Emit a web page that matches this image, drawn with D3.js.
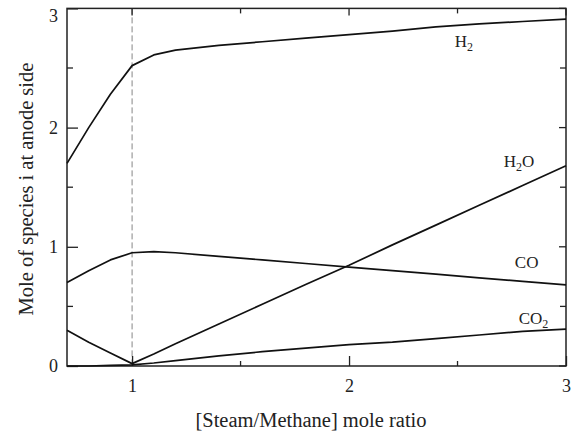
<!DOCTYPE html>
<html>
<head>
<meta charset="utf-8">
<script src="https://cdn.jsdelivr.net/npm/d3@7"></script>
<style>
  body { margin: 0; background: #fff; }
  svg { display: block; }
  text { font-family: "Liberation Serif", "Times New Roman", serif; fill: #222; }
</style>
</head>
<body>
<div id="chart"></div>
<script>
// steam/methane ratio sample points
var ratio = [0.7, 0.8, 0.9, 1.0, 1.1, 1.2, 1.4, 1.6, 1.8, 2.0, 2.2, 2.4, 2.6, 2.8, 3.0];

// moles of each species at the anode side
var h2  = [1.70, 2.00, 2.28, 2.52, 2.61, 2.65, 2.69, 2.72, 2.75, 2.78, 2.81, 2.845, 2.87, 2.89, 2.91];
var h2o = [0.30, 0.20, 0.11, 0.02, 0.10, 0.186, 0.352, 0.518, 0.684, 0.845, 1.016, 1.182, 1.348, 1.514, 1.68];
var co  = [0.70, 0.80, 0.89, 0.95, 0.96, 0.95, 0.92, 0.89, 0.86, 0.83, 0.80, 0.77, 0.74, 0.71, 0.68];
var co2 = [0.00, 0.00, 0.005, 0.01, 0.025, 0.045, 0.085, 0.12, 0.15, 0.18, 0.20, 0.23, 0.26, 0.29, 0.31];

var seriesNames = ["H2", "H2O", "CO", "CO2"];
// label anchors in data units [ratio, mole]
var labelAt = [[2.487, 2.68], [2.713, 1.67], [2.764, 0.82], [2.782, 0.35]];

var xMajor = [1, 2, 3];
var xMinor = [1.5, 2.5];
var yMajor = [0, 1, 2, 3];
var yMinor = [0.5, 1.5, 2.5];

var margin = { left: 67, right: 5, top: 8.4, bottom: 69 };
var W = 571, H = 435;
var width = W - margin.left - margin.right,
    height = H - margin.top - margin.bottom;

var svg = d3.select("#chart").append("svg")
    .attr("width", W)
    .attr("height", H)
    .attr("font-family", "Liberation Serif, serif");

var g = svg.append("g")
    .attr("transform", "translate(" + margin.left + "," + margin.top + ")");

var x = d3.scaleLinear().domain([0.7, 3]).range([0, width]);
var y = d3.scaleLinear().domain([0, 3]).range([height, 0]);

// dashed line at ratio 1
g.append("line")
    .attr("x1", x(1)).attr("x2", x(1))
    .attr("y1", 0).attr("y2", height)
    .attr("stroke", "#666")
    .attr("stroke-width", 0.8)
    .attr("stroke-dasharray", "6,3");

// Axes (ticks point inward)
var bottom = g.append("g")
    .attr("transform", "translate(0," + height + ")")
    .call(d3.axisBottom(x).tickValues(xMajor).tickSize(-10).tickPadding(13).tickFormat(d3.format("d")));
var left = g.append("g")
    .call(d3.axisLeft(y).tickValues(yMajor).tickSize(-11).tickPadding(9).tickFormat(d3.format("d")));

[bottom, left].forEach(function (a) {
  a.attr("font-family", null);
  a.select(".domain").remove();
  a.selectAll("line").attr("stroke", "#222").attr("stroke-width", 1.3);
  a.selectAll("text").attr("font-size", "18px").attr("fill", "#222");
});
// top label "3" sits a bit lower so it is not cut by the frame
left.selectAll(".tick text").filter(function (d) { return d === 3; }).attr("dy", "0.7em");

// minor ticks + mirrored ticks
var tickG = g.append("g").attr("stroke", "#222").attr("stroke-width", 1.3);
xMinor.forEach(function (v) {
  tickG.append("line").attr("x1", x(v)).attr("x2", x(v)).attr("y1", height).attr("y2", height - 5);
});
xMajor.concat(xMinor).forEach(function (v) {
  tickG.append("line").attr("x1", x(v)).attr("x2", x(v)).attr("y1", 0).attr("y2", xMinor.indexOf(v) >= 0 ? 5 : 7);
});
yMinor.forEach(function (v) {
  tickG.append("line").attr("x1", 0).attr("x2", 6).attr("y1", y(v)).attr("y2", y(v));
});
yMajor.concat(yMinor).forEach(function (v) {
  tickG.append("line").attr("x1", width).attr("x2", width - (yMinor.indexOf(v) >= 0 ? 6 : 7))
      .attr("y1", y(v)).attr("y2", y(v));
});

// frame
g.append("rect")
    .attr("width", width).attr("height", height)
    .attr("fill", "none")
    .attr("stroke", "#222")
    .attr("stroke-width", 1.5);

// curves
var line = d3.line()
    .x(function (d) { return x(d[0]); })
    .y(function (d) { return y(d[1]); });

[h2, h2o, co, co2].forEach(function (vals) {
  g.append("path")
      .datum(ratio.map(function (r, i) { return [r, vals[i]]; }))
      .attr("fill", "none")
      .attr("stroke", "#111")
      .attr("stroke-width", 1.7)
      .attr("stroke-linejoin", "round")
      .attr("d", line);
});

// species labels with subscripts
seriesNames.forEach(function (name, i) {
  var t = g.append("text")
      .attr("x", x(labelAt[i][0]))
      .attr("y", y(labelAt[i][1]))
      .attr("font-size", "17px");
  var parts = name.match(/[A-Z]+|\d/g);
  parts.forEach(function (p) {
    if (/\d/.test(p)) {
      t.append("tspan").attr("font-size", "12px").attr("dy", 4).text(p);
    } else {
      var s = t.append("tspan").text(p);
      if (t.selectAll("tspan").size() > 1) s.attr("dy", -4);
    }
  });
});

// axis titles
svg.append("text")
    .attr("x", 311)
    .attr("y", 427)
    .attr("text-anchor", "middle")
    .attr("font-size", "20.5px")
    .text("[Steam/Methane] mole ratio");

svg.append("text")
    .attr("transform", "translate(33," + 189 + ") rotate(-90)")
    .attr("text-anchor", "middle")
    .attr("font-size", "20.5px")
    .text("Mole of species i at anode side");
</script>
</body>
</html>
